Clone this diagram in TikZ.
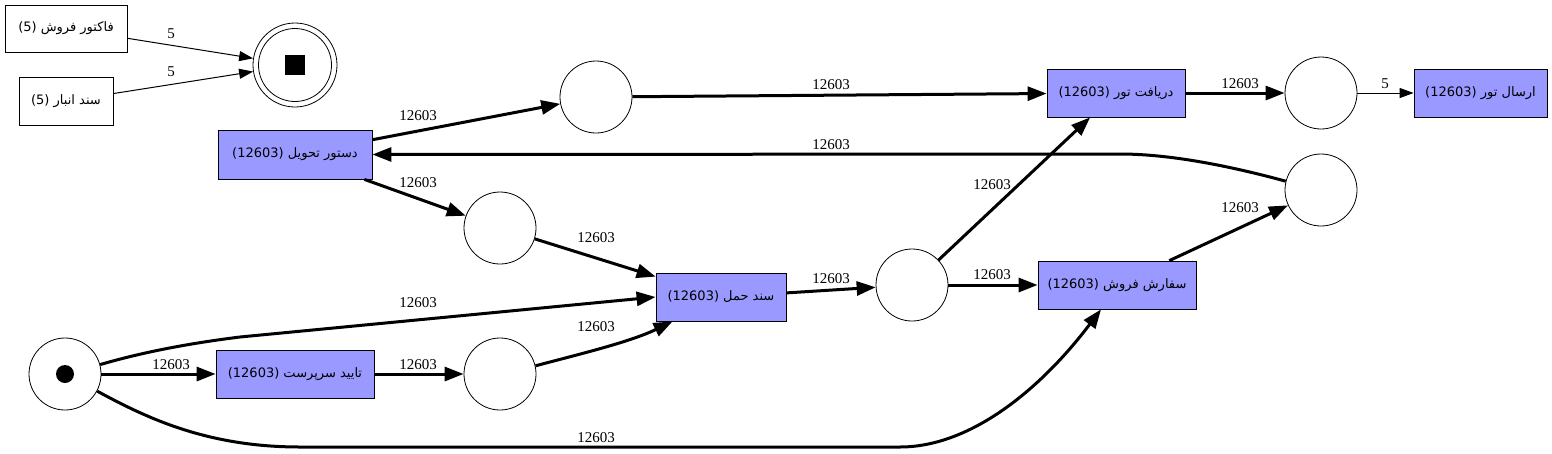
\documentclass[tikz,border=0pt]{standalone}
\usepackage{fontspec}
\setmainfont{Liberation Serif}
\newfontfamily\fa[Script=Arabic]{DejaVu Sans}
\TeXXeTstate=1
\usetikzlibrary{arrows.meta}
\definecolor{trans}{RGB}{153,153,255}
\begin{document}
\begin{tikzpicture}[x=1pt,y=-1pt,
  trbox/.style={draw, fill=trans, line width=0.8pt, minimum height=48pt, inner sep=0pt, font=\fa\fontsize{13}{15}\selectfont},
  whbox/.style={draw, fill=white, line width=0.8pt, minimum height=48pt, inner sep=0pt, font=\fa\fontsize{13}{15}\selectfont},
  place/.style={circle, draw, minimum size=72pt, inner sep=0pt, line width=0.8pt},
  thk/.style={line width=3pt, -{Triangle[length=19pt,width=14pt]}},
  thn/.style={line width=1pt, -{Triangle[length=14pt,width=10pt]}},
  elabel/.style={font=\fontsize{15}{16}\selectfont, inner sep=0pt}]
\useasboundingbox (0,0) rectangle (1552,453);
% nodes
\node[whbox, minimum width=122pt, minimum height=47pt] (f1) at (66,28.5) {(5) \beginR فاکتور فروش\endR};
\node[whbox, minimum width=94pt] (f2) at (66,101) {(5) \beginR سند انبار\endR};
\node[circle, draw, minimum size=84pt, inner sep=0pt, line width=0.8pt] (end) at (295,65) {};
\node[circle, draw, minimum size=73pt, inner sep=0pt, line width=0.8pt] (endin) at (295,65) {};
\node[fill=black, minimum size=20pt, inner sep=0pt] (endsq) at (295,65) {};
\node[trbox, minimum width=154pt, minimum height=49pt] (dt) at (295,154.5) {(12603) \beginR دستور تحویل\endR};
\node[place] (p1) at (596,97) {};
\node[place] (p2) at (500,228) {};
\node[place] (st) at (65,374) {};
\node[circle, fill=black, minimum size=18pt, inner sep=0pt] (stdot) at (65,374) {};
\node[trbox, minimum width=158pt] (ts) at (295,374) {(12603) \beginR تایید سرپرست\endR};
\node[place] (p3) at (500,374) {};
\node[trbox, minimum width=130pt] (sh) at (721,297) {(12603) \beginR سند حمل\endR};
\node[place] (p4) at (912,285) {};
\node[trbox, minimum width=158pt] (sf) at (1117,285) {(12603) \beginR سفارش فروش\endR};
\node[trbox, minimum width=138pt] (dr) at (1116,93) {(12603) \beginR دریافت تور\endR};
\node[place] (p5) at (1321,93) {};
\node[trbox, minimum width=133pt] (er) at (1480.5,93) {(12603) \beginR ارسال تور\endR};
\node[place] (p6) at (1321,190) {};
% edges
\draw[thn] (f1) -- (end);
\draw[thn] (f2) -- (end);
\draw[thk] (dt) -- (p1);
\draw[thk] (p6.166) .. controls (1230,166) and (1170,154) .. (1120,154) -- (dt.east);
\draw[thk] (dt) -- (p2);
\draw[thk] (p2) -- (sh);
\draw[thk] (st.15) .. controls (150,350) and (200,342) .. (240,337) -- (sh.west);
\draw[thk] (st) -- (ts);
\draw[thk] (st.-28) .. controls (150,420) and (210,447) .. (300,447) -- (900,447) .. controls (970,447) and (1040,390) .. ([xshift=-16pt]sf.south);
\draw[thk] (ts) -- (p3);
\draw[thk] (p3.13) .. controls (580,354) and (630,342) .. ([xshift=17pt]sh.south west);
\draw[thk] (sh) -- (p4);
\draw[thk] (p4) -- (dr);
\draw[thk] (p4) -- (sf);
\draw[thk] (p1) -- (dr);
\draw[thk] (dr) -- (p5);
\draw[thn] (p5) -- (er);
\draw[thk] (sf) -- (p6);
% labels
\node[elabel] (l1) at (171,34) {5};
\node[elabel] (l2) at (171,72) {5};
\node[elabel] (l3) at (418,116) {12603};
\node[elabel] (l4) at (831,145) {12603};
\node[elabel] (l5) at (418,183) {12603};
\node[elabel] (l6) at (596,238) {12603};
\node[elabel] (l7) at (418,303) {12603};
\node[elabel] (l8) at (171,365) {12603};
\node[elabel] (l9) at (596,438) {12603};
\node[elabel] (l10) at (418,365) {12603};
\node[elabel] (l11) at (596,327) {12603};
\node[elabel] (l12) at (831,279) {12603};
\node[elabel] (l13) at (992,185) {12603};
\node[elabel] (l14) at (992,275) {12603};
\node[elabel] (l15) at (831,85) {12603};
\node[elabel] (l16) at (1240,84) {12603};
\node[elabel] (l17) at (1385,84) {5};
\node[elabel] (l18) at (1240,208) {12603};
\end{tikzpicture}
\end{document}
